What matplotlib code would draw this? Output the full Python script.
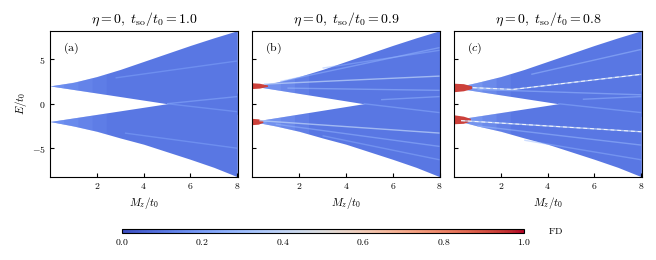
import matplotlib
matplotlib.use("Agg")
import matplotlib.pyplot as plt
from matplotlib.ticker import FuncFormatter
import numpy as np

plt.rcParams['mathtext.fontset'] = 'cm'
plt.rcParams['font.family'] = ['DejaVu Serif']

cmap = plt.get_cmap('coolwarm')

# band edges (E/t0 against Mz/t0)
mz_edge = [0, 1, 2, 3, 4, 5, 6, 7, 8]
upper_outer = [2.0, 2.4, 3.05, 3.85, 4.75, 5.65, 6.55, 7.4, 8.2]
lower_outer = [-2.05, -2.5, -3.1, -3.85, -4.55, -5.4, -6.25, -7.15, -8.2]

titles = [r'$\eta=0,\ t_{\rm so}/t_0=1.0$',
          r'$\eta=0,\ t_{\rm so}/t_0=0.9$',
          r'$\eta=0,\ t_{\rm so}/t_0=0.8$']
panel_tags = [r'$\mathrm{(a)}$', r'$\mathrm{(b)}$', r'$(c)$']

# point where the two bands start (E at Mz=0) and where the gap closes
band_start = [2.0, 2.0, 1.8]
gap_close = [5.0, 4.75, 4.45]
base_fd = 0.1

# lighter FD close to the band origin: Mz ranges and fd per panel
glow_ranges = [0.0, 0.6, 1.2, 1.8, 2.4]
glow_fd = [0.22, 0.28, 0.3]

# streaks inside the bands: (mz, E, fd, alpha, white dashes)
streaks_a = [
    ([2.8, 8], [2.9, 4.8], 0.22, 0.5, False),
    ([5.0, 8], [0.0, 0.8], 0.25, 0.5, False),
    ([5.0, 8], [0.0, -0.9], 0.22, 0.5, False),
    ([3.2, 8], [-3.3, -5.0], 0.22, 0.5, False),
]
streaks_b = [
    ([0.5, 8], [2.2, 3.1], 0.38, 0.75, False),
    ([1.2, 8], [2.5, 6.3], 0.28, 0.5, False),
    ([1.5, 8], [1.75, 1.5], 0.3, 0.5, False),
    ([3.0, 8], [4.0, 6.0], 0.27, 0.45, False),
    ([5.5, 8], [0.45, 0.8], 0.28, 0.5, False),
    ([0.3, 8], [-1.9, -3.3], 0.38, 0.75, False),
    ([1.0, 8], [-2.3, -4.8], 0.28, 0.5, False),
    ([3.0, 8], [-3.6, -6.3], 0.26, 0.45, False),
    ([4.75, 8], [0.0, -1.0], 0.25, 0.5, False),
]
streaks_c = [
    ([0.8, 2.5, 8], [1.8, 1.6, 3.3], 0.4, 0.8, True),
    ([3.3, 8], [3.3, 6.1], 0.3, 0.5, False),
    ([1.0, 8], [1.6, 1.0], 0.3, 0.5, False),
    ([5.5, 8], [0.5, 0.8], 0.28, 0.5, False),
    ([0.3, 8], [-1.9, -3.15], 0.4, 0.8, True),
    ([1.0, 8], [-2.5, -4.65], 0.3, 0.5, False),
    ([3.0, 8], [-4.1, -6.3], 0.27, 0.45, False),
    ([4.45, 8], [0.0, -1.0], 0.25, 0.5, False),
]
streaks = [streaks_a, streaks_b, streaks_c]

# red (high FD) patches near Mz=0: mz, top, bottom, fd
red_b = [([0, 0.3, 0.65], [2.35, 2.3, 2.1], [1.7, 1.75, 1.95], 0.93),
         ([0, 0.25, 0.45], [-1.65, -1.7, -1.9], [-2.35, -2.3, -2.1], 0.93)]
red_c = [([0, 0.4, 0.75], [2.3, 2.25, 2.0], [1.35, 1.45, 1.7], 0.93),
         ([0, 0.4, 0.7], [-1.25, -1.4, -1.65], [-2.25, -2.2, -1.95], 0.93)]
reds = [[], red_b, red_c]

xticks = [2, 4, 6, 8]
yticks = [-5, 0, 5]

fig = plt.figure(figsize=(6.56, 2.6), dpi=100)
lefts = [0.0762, 0.3846, 0.6921]
fmt = FuncFormatter(lambda v, p: f'${v:g}$')

for i in range(3):
    ax = fig.add_axes([lefts[i], 0.3204, 0.2866, 0.5615])
    mz = np.array(mz_edge, dtype=float)
    s = band_start[i]
    up_out = np.array(upper_outer)
    lo_out = np.array(lower_outer)
    up_out[0] = s
    lo_out[0] = -s
    slope = s / gap_close[i]
    up_in = s - slope * mz
    lo_in = -up_in
    col = cmap(base_fd)
    ax.fill_between(mz, up_in, up_out, color=col, lw=0)
    ax.fill_between(mz, lo_out, lo_in, color=col, lw=0)

    # lighter colour near the origin of the bands, fading with Mz
    for k in range(len(glow_ranges) - 1):
        xs = np.array([glow_ranges[k], glow_ranges[k + 1]])
        top = np.interp(xs, mz, up_out)
        bot = s - slope * xs
        a = 0.55 * (1 - k / (len(glow_ranges) - 1))
        ax.fill_between(xs, bot, top, color=cmap(glow_fd[i]), lw=0, alpha=a)
        bot2 = np.interp(xs, mz, lo_out)
        ax.fill_between(xs, bot2, -bot, color=cmap(glow_fd[i]), lw=0, alpha=a)

    for xs, ys, fd, al, dashed in streaks[i]:
        ax.plot(xs, ys, color=cmap(fd), lw=1.0, alpha=al, solid_capstyle='butt')
        if dashed:
            ax.plot(xs, ys, color='white', lw=0.7, ls=(0, (4, 3)), alpha=0.9)

    for xs, top, bot, fd in reds[i]:
        ax.fill_between(xs, top, bot, color=cmap(fd), lw=0)

    ax.set_xlim(0, 8.03)
    ax.set_ylim(-8.2, 8.2)
    ax.set_xticks(xticks)
    ax.set_yticks(yticks)
    ax.xaxis.set_major_formatter(fmt)
    ax.yaxis.set_major_formatter(fmt)
    ax.tick_params(direction='in', length=3, width=0.8, labelsize=7, pad=3)
    for sp in ax.spines.values():
        sp.set_linewidth(0.8)
    if i > 0:
        ax.set_yticklabels([])
    else:
        ax.set_ylabel(r'$E/t_0$', fontsize=8, labelpad=2)
    ax.set_xlabel(r'$M_z/t_0$', fontsize=8, labelpad=3)
    ax.set_title(titles[i], fontsize=10, pad=6)
    ax.text(0.07, 0.93, panel_tags[i], transform=ax.transAxes, fontsize=8.5,
            va='top', ha='left')

cax = fig.add_axes([0.186, 0.1038, 0.613, 0.017])
sm = matplotlib.cm.ScalarMappable(cmap=cmap, norm=plt.Normalize(0, 1))
cb = fig.colorbar(sm, cax=cax, orientation='horizontal')
cb.set_ticks([0.0, 0.2, 0.4, 0.6, 0.8, 1.0])
cb.set_ticklabels([f'${v:.1f}$' for v in [0.0, 0.2, 0.4, 0.6, 0.8, 1.0]])
cb.ax.tick_params(length=0, labelsize=7, pad=3)
cb.outline.set_linewidth(0.8)
fig.text(0.835, 0.112, r'$\mathrm{FD}$', fontsize=7, va='center', ha='left')

fig.savefig('out.png', dpi=100)
